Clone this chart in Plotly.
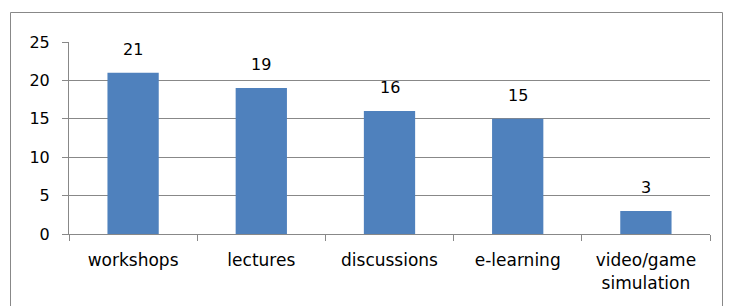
import plotly.graph_objects as go

categories = ["workshops", "lectures", "discussions", "e-learning", "video/game<br>simulation"]
values = [21, 19, 16, 15, 3]
y_ticks = [0, 5, 10, 15, 20, 25]

# page has an 8px body margin; positions below are in figure coordinates
OFF = 8
W, H = 731, 306
L, R, T, B = 69 - OFF, W - (710 - OFF), 42 - OFF, H - (234 - OFF)
pw, ph = W - L - R, H - T - B

def px_x(x):
    return (x - OFF - L) / pw

def px_y(y):
    return (H - B - (y - OFF)) / ph

fig = go.Figure(go.Bar(
    x=categories, y=values,
    marker=dict(color="#4F81BD", line=dict(width=0)),
    width=0.4,
))

for c, v in zip(categories, values):
    fig.add_annotation(
        x=c, y=v, text=str(v), showarrow=False, yanchor="bottom",
        yshift=12, font=dict(family="DejaVu Sans", size=16, color="black"),
    )

fig.update_layout(
    width=W, height=H,
    margin=dict(l=L, r=R, t=T, b=B, autoexpand=False),
    paper_bgcolor="white", plot_bgcolor="white",
    font=dict(family="DejaVu Sans", size=16, color="black"),
    showlegend=False,
    bargap=0.6,
    xaxis=dict(
        showline=True, linecolor="#888888", linewidth=1,
        ticks="outside", tickson="boundaries", ticklen=6, tickcolor="#888888",
        showgrid=False, tickfont=dict(size=17), automargin=False,
        ticklabelstandoff=11,
    ),
    yaxis=dict(
        range=[0, 25], tickvals=y_ticks, showline=True, linecolor="#888888",
        linewidth=1, ticks="outside", ticklen=6, tickcolor="#888888",
        showgrid=True, gridcolor="#888888", gridwidth=1, zeroline=False,
        tickfont=dict(size=16), automargin=False, ticklabelstandoff=9,
    ),
    shapes=[dict(
        type="rect", xref="paper", yref="paper",
        x0=px_x(10.5), x1=px_x(722.5), y0=px_y(330), y1=px_y(12.5),
        line=dict(color="#888888", width=1), fillcolor="rgba(0,0,0,0)", layer="below",
    )],
)

fig.write_html("out.html")
